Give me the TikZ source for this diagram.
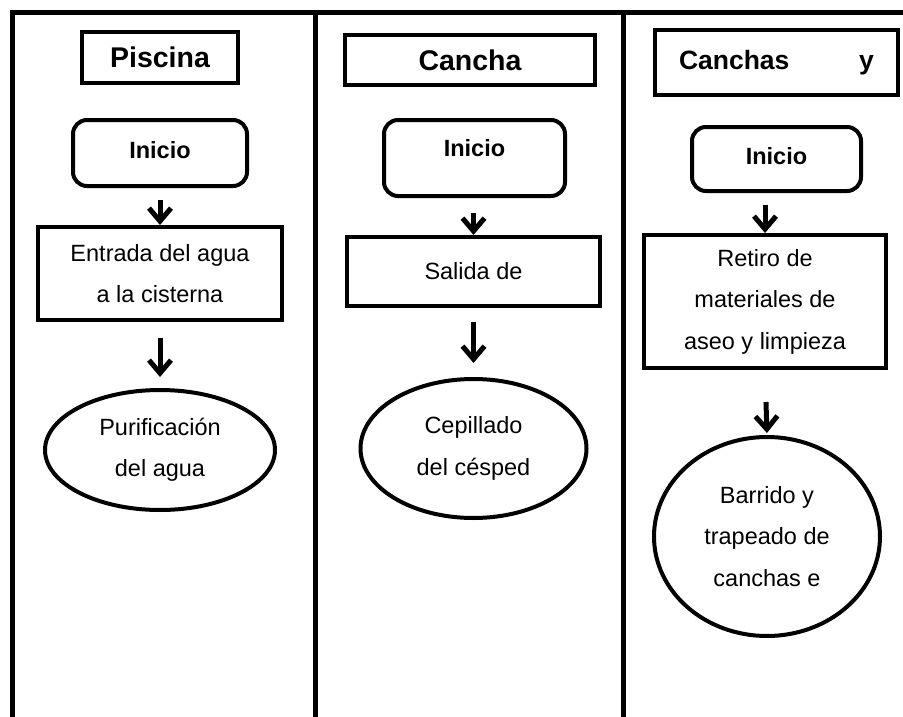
\documentclass[tikz,border=0pt]{standalone}
\usepackage{fontspec}
\setmainfont{Liberation Sans}
\usetikzlibrary{shapes.geometric, arrows.meta, positioning}

\begin{document}
\begin{tikzpicture}[x=1pt, y=-1pt,
  frame/.style={line width=4.5pt},
  title/.style={rectangle, draw, line width=4pt, text centered,
                font=\fontsize{28.5}{32}\selectfont\bfseries, inner sep=0pt},
  start/.style={rectangle, draw, line width=4pt, rounded corners=14pt,
                text centered, text depth=6pt, inner sep=0pt,
                font=\fontsize{23.5}{27}\selectfont\bfseries},
  task/.style={rectangle, draw, line width=4pt, align=center, inner sep=0pt,
               font=\fontsize{23.5}{41.5}\selectfont},
  oval/.style={ellipse, draw, line width=4pt, align=center, inner sep=0pt,
               font=\fontsize{23.5}{41.5}\selectfont},
  arrow/.style={-{Straight Barb[length=13pt, width=22pt]}, line width=5pt,
                preaction={draw=gray!60, transform canvas={shift={(1.5pt,-1.5pt)}}}}
]
\useasboundingbox (0,0) rectangle (903,717);

\draw[frame] (12.5,717) -- (12.5,12.5) -- (903,12.5);
\draw[frame] (315.5,12.5) -- (315.5,717);
\draw[frame] (623.5,12.5) -- (623.5,717);

% Piscina
\node[title, minimum width=156pt, minimum height=51pt] (pisc) at (160,57.5) {Piscina};
\node[start, minimum width=174pt, minimum height=66pt, below=33pt of pisc] (ini1) {Inicio};
\node[task, minimum width=244pt, minimum height=93pt, below=37pt of ini1]
  (entrada) {Entrada del agua\\a la cisterna};
\node[oval, minimum width=230pt, minimum height=120pt, below=66pt of entrada]
  (puri) {Purificación\\del agua};

% Cancha
\node[title, minimum width=250pt, minimum height=50pt] (canc) at (470,60) {Cancha};
\node[start, minimum width=181pt, minimum height=76pt, text depth=20pt,
      below=31pt of canc, xshift=4.5pt] (ini2) {Inicio};
\node[task, minimum width=253pt, minimum height=69pt, below=37pt of ini2, xshift=-1pt]
  (salida) {Salida de};
\node[oval, minimum width=226pt, minimum height=139pt, below=69pt of salida]
  (cepi) {Cepillado\\del césped};

% Canchas y
\node[title, minimum width=243pt, minimum height=65pt,
      font=\fontsize{26.5}{30}\selectfont\bfseries] (cancs) at (776.5,62.5)
  {\makebox[195pt]{Canchas\hfill y}};
\node[start, minimum width=169pt, minimum height=64pt, below=28pt of cancs] (ini3) {Inicio};
\node[task, minimum width=242pt, minimum height=133pt, below=40pt of ini3, xshift=-11.5pt]
  (retiro) {Retiro de\\materiales de\\aseo y limpieza};
\node[oval, minimum width=226pt, minimum height=199pt, below=65pt of retiro, xshift=2pt]
  (barr) {Barrido y\\trapeado de\\canchas e};

\draw[arrow, shorten <=12pt] (ini1.south) -- (entrada.north);
\draw[arrow, shorten <=16pt, shorten >=11pt] (entrada.south) -- (puri.north);
\draw[arrow, shorten <=15pt] (salida.north |- ini2.south) -- (salida.north);
\draw[arrow, shorten <=14pt, shorten >=14pt] (salida.south) -- (cepi.north);
\draw[arrow, shorten <=12pt] (retiro.north |- ini3.south) -- (retiro.north);
\draw[arrow, shorten <=32pt, shorten >=2pt] (retiro.south) -- (barr.north);

\end{tikzpicture}
\end{document}
